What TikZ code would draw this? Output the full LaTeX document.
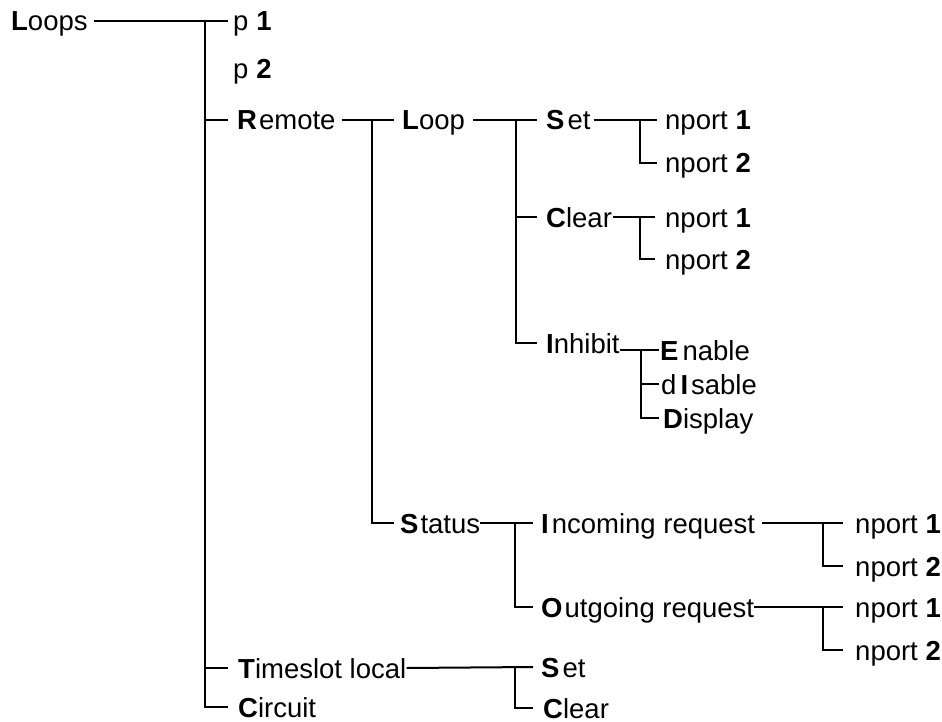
\documentclass[tikz,border=0pt]{standalone}
\usepackage{fontspec}
\setmainfont{Liberation Sans}
\begin{document}
\begin{tikzpicture}[x=1pt,y=-1pt,
  lbl/.style={anchor=base west, inner sep=0pt, text height=20pt, text depth=0pt,
    font=\fontsize{27.5}{33}\selectfont},
  wire/.style={line width=2pt, line join=miter}]
\useasboundingbox (0,0) rectangle (942,722);
% nodes
\node[lbl] (loops) at (11,31) {\textbf{L}oops};
\node[lbl] (p1) at (233,31) {p\kern8pt\textbf{1}};
\node[lbl] (p2) at (233,79) {p\kern8pt\textbf{2}};
\node[lbl] (remote) at (237,130) {\textbf{R}\kern2pt emote};
\node[lbl] (timeslot) at (238,678) {\textbf{T}imeslot local};
\node[lbl] (circuit) at (238,717) {\textbf{C}ircuit};
\node[lbl] (loop) at (402,130) {\textbf{L}oop};
\node[lbl] (status) at (400,533) {\textbf{S}\kern2pt tatus};
\node[lbl] (lset) at (546,130) {\textbf{S}\kern3pt et};
\node[lbl] (lclear) at (546,227) {\textbf{C}lear};
\node[lbl] (inhibit) at (546,353) {\textbf{I}nhibit};
\node[lbl] (sn1) at (665,130) {nport \textbf{1}};
\node[lbl] (sn2) at (665,173) {nport \textbf{2}};
\node[lbl] (cn1) at (665,227) {nport \textbf{1}};
\node[lbl] (cn2) at (665,269) {nport \textbf{2}};
\node[lbl] (enable) at (660,360) {\textbf{E}\kern4pt nable};
\node[lbl] (disable) at (661,394) {d\kern4pt\textbf{I}\kern3pt sable};
\node[lbl] (display) at (663,428) {\textbf{D}isplay};
\node[lbl] (incoming) at (541,533) {\textbf{I}\kern3pt ncoming request};
\node[lbl] (outgoing) at (541,617) {\textbf{O}\kern2pt utgoing request};
\node[lbl] (in1) at (855,533) {nport \textbf{1}};
\node[lbl] (in2) at (855,576) {nport \textbf{2}};
\node[lbl] (on1) at (855,617) {nport \textbf{1}};
\node[lbl] (on2) at (855,660) {nport \textbf{2}};
\node[lbl] (tset) at (541,677) {\textbf{S}\kern3pt et};
\node[lbl] (tclear) at (543,718) {\textbf{C}lear};
% junction columns
\coordinate (j0) at (205,0);   \coordinate (e0) at (228,0);
\coordinate (j1) at (372,0);   \coordinate (e1) at (394,0);
\coordinate (j2) at (516,0);   \coordinate (e2) at (537,0);
\coordinate (j3) at (640,0);   \coordinate (e3) at (657,0);
\coordinate (j4) at (640,0);   \coordinate (e4) at (655,0);
\coordinate (j5) at (641,0);   \coordinate (e5) at (659,0);
\coordinate (j6) at (515,0);   \coordinate (e6) at (533,0);
\coordinate (j7) at (823,0);   \coordinate (e7) at (843,0);
\coordinate (j8) at (823,0);   \coordinate (e8) at (843,0);
\coordinate (j9) at (515,0);   \coordinate (e9) at (533,0);
% root
\draw[wire] ([xshift=6pt]loops.east) -- (e0 |- p1.west);
\draw[wire] (j0 |- p1.west) -- (j0 |- circuit.west) -- (e0 |- circuit.west);
\draw[wire] (j0 |- remote.west) -- (e0 |- remote.west);
\draw[wire] (j0 |- timeslot.west) -- (e0 |- timeslot.west);
% remote
\draw[wire] ([xshift=6pt]remote.east) -- (e1 |- loop.west);
\draw[wire] (j1 |- loop.west) -- (j1 |- status.west) -- (e1 |- status.west);
% loop
\draw[wire] ([xshift=8pt]loop.east) -- (e2 |- lset.west);
\draw[wire] (j2 |- lset.west) -- (j2 |- inhibit.west) -- (e2 |- inhibit.west);
\draw[wire] (j2 |- lclear.west) -- (e2 |- lclear.west);
% set
\draw[wire] ([xshift=3pt]lset.east) -- (e3 |- sn1.west);
\draw[wire] (j3 |- sn1.west) -- (j3 |- sn2.west) -- (e3 |- sn2.west);
% clear
\draw[wire] ([xshift=1pt]lclear.east) -- (e4 |- cn1.west);
\draw[wire] (j4 |- cn1.west) -- (j4 |- cn2.west) -- (e4 |- cn2.west);
% inhibit
\draw[wire] (inhibit.east |- enable.west) -- (e5 |- enable.west);
\draw[wire] (j5 |- enable.west) -- (j5 |- display.west) -- (e5 |- display.west);
\draw[wire] (j5 |- disable.west) -- (e5 |- disable.west);
% status
\draw[wire] (status.east) -- (e6 |- incoming.west);
\draw[wire] (j6 |- incoming.west) -- (j6 |- outgoing.west) -- (e6 |- outgoing.west);
% incoming
\draw[wire] ([xshift=7pt]incoming.east) -- (e7 |- in1.west);
\draw[wire] (j7 |- in1.west) -- (j7 |- in2.west) -- (e7 |- in2.west);
% outgoing
\draw[wire] (outgoing.east) -- (e8 |- on1.west);
\draw[wire] (j8 |- on1.west) -- (j8 |- on2.west) -- (e8 |- on2.west);
% timeslot
\draw[wire] (timeslot.east) -- (e9 |- tset.west);
\draw[wire] (j9 |- tset.west) -- (j9 |- tclear.west) -- (e9 |- tclear.west);
\end{tikzpicture}
\end{document}
